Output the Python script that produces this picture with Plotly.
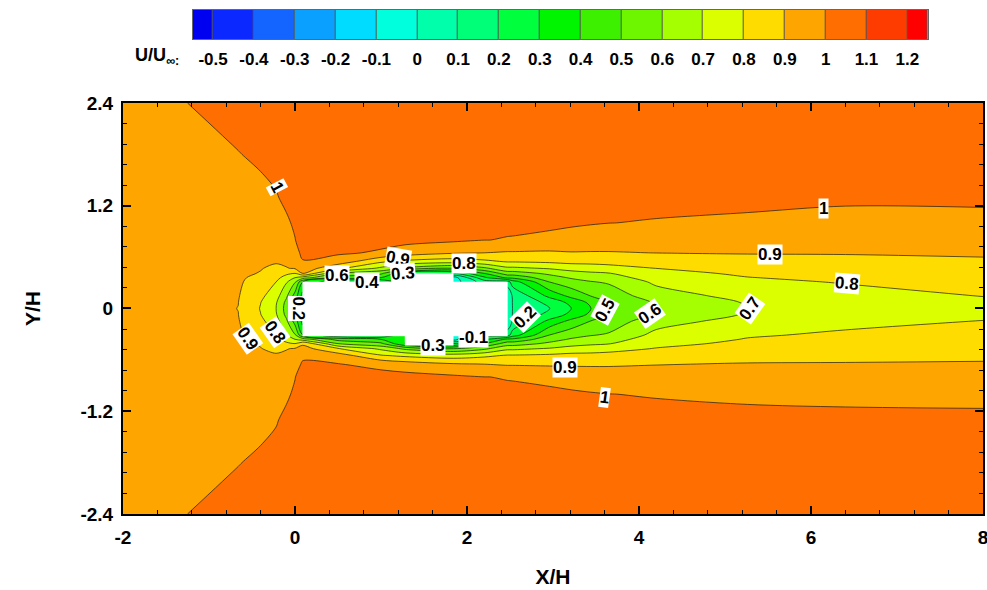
import numpy as np
import plotly.graph_objects as go

# ---------------- data ----------------
x_stations = [-2.0, -1.2, -0.66, -0.4, -0.22, -0.1, 0.0, 0.09, 0.5, 1.0, 1.28, 1.84,
              2.2, 2.47, 2.53, 2.96, 3.21, 3.44, 3.65, 4.2, 5.26, 6.4, 8.0]
y_stations = [2.4, 1.8, 1.3, 1.0, 0.8, 0.65, 0.55, 0.47, 0.41, 0.36, 0.31, 0.15, 0.07, 0.0,
              -0.07, -0.15, -0.31, -0.36, -0.41, -0.47, -0.55, -0.65, -0.8, -1.0, -1.3, -1.8, -2.4]

# U/U_inf profiles, one per x station, listed from top (Y=2.4) to bottom (Y=-2.4)
u_columns = [
    [0.985, 0.975, 0.965, 0.96, 0.955, 0.95, 0.95, 0.948, 0.946, 0.945, 0.944, 0.942, 0.94, 0.94, 0.94, 0.942, 0.944, 0.945, 0.946, 0.948, 0.95, 0.95, 0.955, 0.96, 0.965, 0.975, 0.985],
    [1.001, 0.985, 0.97, 0.96, 0.955, 0.95, 0.945, 0.942, 0.94, 0.938, 0.936, 0.932, 0.931, 0.93, 0.931, 0.932, 0.936, 0.938, 0.94, 0.942, 0.945, 0.95, 0.955, 0.96, 0.97, 0.985, 1.001],
    [1.025, 0.998, 0.975, 0.96, 0.95, 0.94, 0.93, 0.925, 0.92, 0.915, 0.912, 0.905, 0.901, 0.899, 0.901, 0.905, 0.912, 0.915, 0.92, 0.925, 0.93, 0.94, 0.95, 0.96, 0.975, 0.998, 1.025],
    [1.04, 1.01, 0.985, 0.965, 0.95, 0.935, 0.92, 0.905, 0.895, 0.875, 0.86, 0.825, 0.802, 0.795, 0.802, 0.825, 0.86, 0.875, 0.893, 0.903, 0.92, 0.935, 0.95, 0.965, 0.985, 1.01, 1.04],
    [1.05, 1.025, 0.995, 0.97, 0.95, 0.93, 0.91, 0.88, 0.85, 0.83, 0.8, 0.74, 0.709, 0.7, 0.709, 0.74, 0.8, 0.83, 0.85, 0.88, 0.91, 0.93, 0.95, 0.97, 0.995, 1.025, 1.05],
    [1.055, 1.04, 1.015, 0.99, 0.965, 0.94, 0.92, 0.895, 0.82, 0.76, 0.71, 0.62, 0.573, 0.56, 0.573, 0.62, 0.71, 0.76, 0.82, 0.895, 0.92, 0.94, 0.965, 0.99, 1.015, 1.04, 1.055],
    [1.06, 1.05, 1.03, 1.01, 0.998, 0.97, 0.94, 0.91, 0.8, 0.7, 0.61, 0.46, 0.382, 0.36, 0.382, 0.46, 0.61, 0.7, 0.8, 0.91, 0.94, 0.97, 0.998, 1.01, 1.03, 1.05, 1.06],
    [1.06, 1.055, 1.045, 1.04, 1.03, 1.02, 0.995, 0.96, 0.9, 0.65, 0.4, 0.26, 0.229, 0.22, 0.229, 0.26, 0.4, 0.65, 0.88, 0.94, 0.985, 1.01, 1.03, 1.04, 1.045, 1.055, 1.06],
    [1.055, 1.055, 1.05, 1.045, 1.03, 1.012, 0.96, 0.82, 0.6, 0.46, 0.2, 0.2, 0.2, 0.2, 0.2, 0.2, 0.2, 0.46, 0.6, 0.81, 0.95, 1.003, 1.03, 1.045, 1.05, 1.055, 1.055],
    [1.05, 1.055, 1.055, 1.045, 1.025, 0.99, 0.82, 0.68, 0.52, 0.4, 0.2, 0.2, 0.2, 0.2, 0.2, 0.2, 0.2, 0.4, 0.52, 0.68, 0.81, 0.98, 1.025, 1.045, 1.055, 1.055, 1.05],
    [1.045, 1.05, 1.055, 1.045, 1.03, 0.95, 0.78, 0.58, 0.3, 0.32, 0.3, 0.3, 0.3, 0.3, 0.3, 0.3, 0.3, 0.32, 0.3, 0.58, 0.78, 0.95, 1.03, 1.045, 1.055, 1.05, 1.045],
    [1.04, 1.045, 1.05, 1.035, 1.015, 0.91, 0.75, 0.5, 0.2, -0.05, -0.05, -0.05, -0.05, -0.05, -0.05, -0.05, -0.05, -0.05, 0.2, 0.5, 0.75, 0.91, 1.015, 1.035, 1.05, 1.045, 1.04],
    [1.035, 1.04, 1.04, 1.025, 1.001, 0.9, 0.78, 0.58, 0.4, 0.28, 0.15, 0.1, 0.1, 0.1, 0.1, 0.1, 0.15, 0.28, 0.4, 0.58, 0.78, 0.9, 1.001, 1.025, 1.04, 1.04, 1.035],
    [1.03, 1.035, 1.03, 1.01, 0.9975, 0.89, 0.81, 0.68, 0.55, 0.42, 0.15, 0.02, 0.012, 0.01, 0.012, 0.02, 0.15, 0.42, 0.55, 0.68, 0.81, 0.89, 0.9975, 1.01, 1.03, 1.035, 1.03],
    [1.03, 1.035, 1.03, 1.01, 0.997, 0.89, 0.81, 0.68, 0.55, 0.42, 0.25, 0.11, 0.104, 0.102, 0.104, 0.11, 0.25, 0.42, 0.55, 0.68, 0.81, 0.89, 0.997, 1.01, 1.03, 1.035, 1.03],
    [1.03, 1.035, 1.04, 1.033, 0.96, 0.89, 0.82, 0.71, 0.62, 0.56, 0.501, 0.33, 0.228, 0.199, 0.228, 0.33, 0.501, 0.56, 0.62, 0.71, 0.82, 0.89, 0.96, 1.033, 1.04, 1.035, 1.03],
    [1.03, 1.035, 1.035, 1.017, 0.95, 0.896, 0.825, 0.75, 0.65, 0.61, 0.56, 0.43, 0.328, 0.299, 0.328, 0.43, 0.56, 0.61, 0.65, 0.75, 0.825, 0.89, 0.95, 1.017, 1.035, 1.035, 1.03],
    [1.03, 1.035, 1.035, 1.007, 0.945, 0.895, 0.825, 0.76, 0.68, 0.63, 0.595, 0.505, 0.422, 0.399, 0.422, 0.505, 0.595, 0.63, 0.68, 0.76, 0.825, 0.89, 0.945, 1.007, 1.035, 1.035, 1.03],
    [1.03, 1.035, 1.03, 1.001, 0.945, 0.895, 0.83, 0.77, 0.695, 0.66, 0.61, 0.55, 0.51, 0.499, 0.51, 0.55, 0.61, 0.66, 0.695, 0.77, 0.83, 0.89, 0.945, 1.001, 1.03, 1.035, 1.03],
    [1.025, 1.03, 1.025, 0.995, 0.94, 0.901, 0.845, 0.801, 0.77, 0.745, 0.72, 0.65, 0.61, 0.599, 0.611, 0.655, 0.73, 0.75, 0.775, 0.805, 0.845, 0.897, 0.94, 0.995, 1.025, 1.03, 1.025],
    [1.02, 1.025, 1.015, 0.99, 0.95, 0.905, 0.87, 0.84, 0.815, 0.797, 0.78, 0.74, 0.708, 0.699, 0.709, 0.745, 0.79, 0.805, 0.82, 0.845, 0.87, 0.905, 0.95, 0.99, 1.015, 1.025, 1.02],
    [1.015, 1.02, 1.008, 0.985, 0.95, 0.905, 0.88, 0.86, 0.84, 0.825, 0.806, 0.765, 0.742, 0.735, 0.744, 0.775, 0.815, 0.83, 0.845, 0.862, 0.88, 0.905, 0.95, 0.985, 1.015, 1.02, 1.015],
    [1.012, 1.015, 1.01, 0.985, 0.95, 0.91, 0.89, 0.87, 0.855, 0.845, 0.835, 0.803, 0.781, 0.775, 0.781, 0.803, 0.835, 0.845, 0.855, 0.87, 0.89, 0.905, 0.95, 0.985, 1.012, 1.015, 1.012],
]

# body outline (white, masked region)
body_x = [0.09, 0.09, 1.28, 1.28, 1.84, 1.84, 2.47, 2.47, 1.84, 1.84, 1.28, 1.28, 0.09]
body_y = [-0.32, 0.31, 0.31, 0.41, 0.41, 0.31, 0.31, -0.32, -0.32, -0.43, -0.43, -0.32, -0.32]

# axis ticks
x_ticks = [-2, 0, 2, 4, 6, 8]
x_tick_text = ["-2", "0", "2", "4", "6", "8"]
y_ticks = [-2.4, -1.2, 0, 1.2, 2.4]
y_tick_text = ["-2.4", "-1.2", "0", "1.2", "2.4"]

# colour legend levels and band colours
levels = [-0.5, -0.4, -0.3, -0.2, -0.1, 0.0, 0.1, 0.2, 0.3, 0.4, 0.5, 0.6, 0.7, 0.8, 0.9, 1.0, 1.1, 1.2]
level_text = ["-0.5", "-0.4", "-0.3", "-0.2", "-0.1", "0", "0.1", "0.2", "0.3", "0.4", "0.5", "0.6",
              "0.7", "0.8", "0.9", "1", "1.1", "1.2"]
band_colors = ["#0000F0", "#0A28FF", "#1464FF", "#0AA0FF", "#00DCFF", "#00FFDC", "#00FFAA", "#00FF78",
               "#00FF3C", "#00F500", "#3CF000", "#6EF500", "#A5FF00", "#DCFF00", "#FFDC00", "#FFA500",
               "#FF6E00", "#FF3C00", "#FF0000"]

# contour labels
label_text = ["1", "1", "0.9", "0.8", "0.7", "0.6", "0.5", "0.2", "0.9", "1",
              "0.9", "0.3", "0.8", "0.6", "0.4", "0.2", "0.8", "0.9", "0.3", "-0.1"]
label_x = [-0.21, 6.14, 5.52, 6.42, 5.29, 4.13, 3.6, 2.67, 3.14, 3.6,
           1.2, 1.26, 1.97, 0.49, 0.84, 0.035, -0.23, -0.55, 1.6, 2.08]
label_y = [1.41, 1.17, 0.63, 0.29, 0.0, -0.06, -0.02, -0.1, -0.69, -1.04,
           0.58, 0.41, 0.53, 0.39, 0.305, 0.0, -0.28, -0.35, -0.43, -0.34]
label_angle = [62, 0, 0, 5, -55, -35, -62, -45, 0, 8,
               10, -5, 0, 0, 0, 90, 55, 55, 0, 0]

# ---------------- build ----------------
zmin, zmax = -0.6, 1.3
nb = len(band_colors)
colorscale = []
for k, c in enumerate(band_colors):
    colorscale.append([k / nb, c])
    colorscale.append([(k + 1) / nb, c])

z = np.array(u_columns).T[::-1]
ys = y_stations[::-1]

FONT = "Liberation Sans, Arial, sans-serif"

fig = go.Figure()
fig.add_trace(go.Contour(
    x=x_stations, y=ys, z=z,
    colorscale=colorscale, zmin=zmin, zmax=zmax, zauto=False,
    autocontour=False,
    contours=dict(start=-0.5, end=1.2, size=0.1, coloring="fill", showlines=True),
    line=dict(color="#1a1a1a", width=0.7, smoothing=0.9),
    showscale=False, hoverinfo="skip",
    xaxis="x", yaxis="y",
))
fig.add_trace(go.Scatter(
    x=body_x, y=body_y, fill="toself", fillcolor="white", mode="lines",
    line=dict(color="white", width=0.5), hoverinfo="skip", xaxis="x", yaxis="y",
))

# colour legend strip
edges = [levels[0] - 0.05] + levels + [levels[-1] + 0.05]
centers = [(a + b) / 2 for a, b in zip(edges[:-1], edges[1:])]
fig.add_trace(go.Heatmap(
    x=edges, y=[0, 1], z=[centers], colorscale=colorscale, zmin=zmin, zmax=zmax,
    showscale=False, xgap=1, hoverinfo="skip", xaxis="x2", yaxis="y2",
))

annotations = []
for t, xx, yy, a in zip(label_text, label_x, label_y, label_angle):
    annotations.append(dict(
        x=xx, y=yy, xref="x", yref="y", text=t, showarrow=False, textangle=a,
        bgcolor="white", borderpad=0, xanchor="center", yanchor="middle",
        font=dict(family=FONT, size=17, color="black", weight="bold"),
    ))
annotations.append(dict(
    x=0.04, y=0.907, xref="paper", yref="paper", text="U/U<sub>∞:</sub>", showarrow=False,
    xanchor="center", yanchor="middle",
    font=dict(family=FONT, size=18, color="black", weight="bold"),
))

fig.update_layout(
    width=987, height=590,
    margin=dict(l=123, r=4, t=10, b=76, autoexpand=False),
    paper_bgcolor="white", plot_bgcolor="#555555",
    showlegend=False,
    annotations=annotations,
    xaxis=dict(
        domain=[0, 1], range=[-2, 8], tickvals=x_ticks, ticktext=x_tick_text, automargin=False,
        ticks="inside", ticklen=8, tickwidth=2, tickcolor="black",
        showline=True, linewidth=2, linecolor="black", mirror="ticks",
        showgrid=False, zeroline=False, ticklabeloverflow="allow",
        minor=dict(ticks="inside", ticklen=4, tickwidth=1, tickcolor="black", dtick=0.4, showgrid=False),
        tickfont=dict(family=FONT, size=19, color="black", weight="bold"),
        ticklabelstandoff=5,
        title=dict(text="X/H", font=dict(family=FONT, size=21, color="black", weight="bold"), standoff=23),
    ),
    yaxis=dict(
        domain=[0, 0.8155], range=[-2.4, 2.4], tickvals=y_ticks, ticktext=y_tick_text, automargin=False,
        ticks="inside", ticklen=8, tickwidth=2, tickcolor="black",
        showline=True, linewidth=2, linecolor="black", mirror="ticks",
        showgrid=False, zeroline=False, ticklabeloverflow="allow",
        minor=dict(ticks="inside", ticklen=4, tickwidth=1, tickcolor="black", dtick=0.24, showgrid=False),
        tickfont=dict(family=FONT, size=19, color="black", weight="bold"),
        ticklabelstandoff=4,
        title=dict(text="Y/H", font=dict(family=FONT, size=21, color="black", weight="bold"), standoff=34),
    ),
    xaxis2=dict(
        domain=[0.081, 0.9357], anchor="y2", range=[edges[0], edges[-1]], automargin=False,
        tickvals=levels, ticktext=level_text, ticks="", showgrid=False, zeroline=False,
        showline=True, linecolor="#666666", linewidth=1, mirror=True,
        tickfont=dict(family=FONT, size=17, color="black", weight="bold"),
        ticklabelstandoff=5,
    ),
    yaxis2=dict(
        domain=[0.9425, 1.0], anchor="x2", range=[0, 1], showticklabels=False, automargin=False,
        ticks="", showgrid=False, zeroline=False,
        showline=True, linecolor="#666666", linewidth=1, mirror=True,
    ),
)

# remove the default page margin so the figure sits at the window's top-left corner
fig.write_html("out.html",
               config={"displayModeBar": False},
               post_script="document.body.style.margin='0';document.body.style.overflow='hidden';")
